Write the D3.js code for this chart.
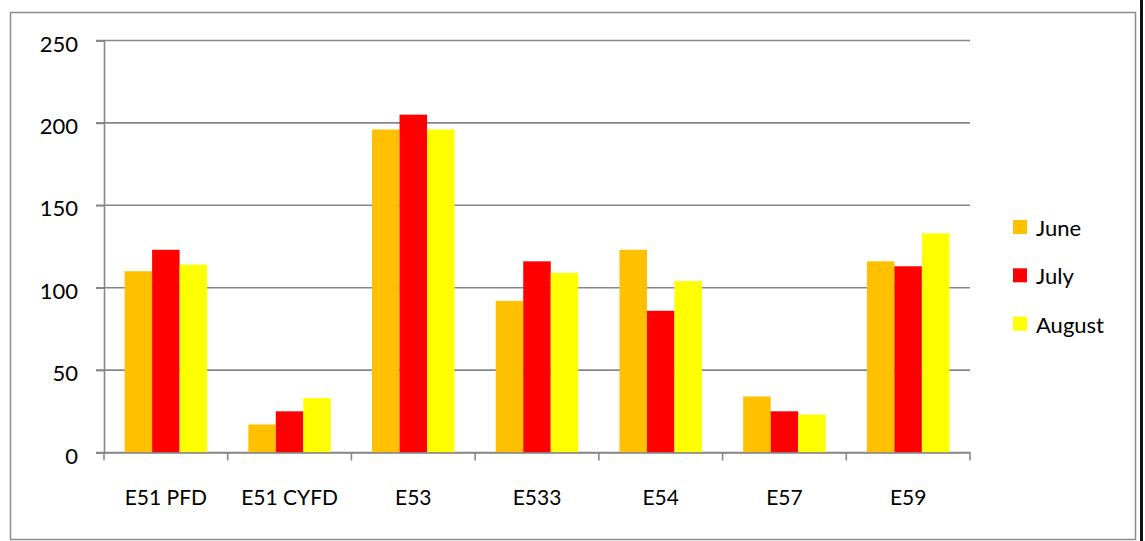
<!DOCTYPE html>
<html>
<head>
<meta charset="utf-8">
<script src="https://cdn.jsdelivr.net/npm/d3@7/dist/d3.min.js"></script>
<style>
  html, body { margin: 0; padding: 0; background: #fff; }
  svg { display: block; font-family: "Lato", "Open Sans", sans-serif; }
</style>
</head>
<body>
<svg id="chart" width="1145" height="541"></svg>
<script>
// Monthly counts per site
const categories = ["E51 PFD", "E51 CYFD", "E53", "E533", "E54", "E57", "E59"];
const seriesNames = ["June", "July", "August"];
const june   = [110, 17, 196, 92, 123, 34, 116];
const july   = [123, 25, 205, 116, 86, 25, 113];
const august = [114, 33, 196, 109, 104, 23, 133];
const yTicks = [0, 50, 100, 150, 200, 250];
const colors = ["#FFC000", "#FF0000", "#FFFF00"];

const values = [june, july, august];

const svg = d3.select("#chart");
const W = 1145, H = 541;
const plot = { left: 104, right: 970, top: 40.5, bottom: 452.5 };
const gridColor = "#878787";
const fontFamily = "Lato, 'Open Sans', sans-serif";

// Outer chart frame
svg.append("rect")
  .attr("x", 10.5).attr("y", 12.5)
  .attr("width", 1125).attr("height", 527)
  .attr("fill", "#fff")
  .attr("stroke", "#8c8c8c").attr("stroke-width", 1.5);

// Dark edge on the right side
svg.append("line")
  .attr("x1", 1141.5).attr("x2", 1141.5)
  .attr("y1", 0).attr("y2", H)
  .attr("stroke", "#111").attr("stroke-width", 3);

const x = d3.scaleBand()
  .domain(categories)
  .range([plot.left, plot.right])
  .paddingInner(0).paddingOuter(0);

const inner = d3.scaleBand()
  .domain(seriesNames)
  .range([0, x.bandwidth()])
  .paddingInner(0)
  .paddingOuter(0.75);

const y = d3.scaleLinear()
  .domain([0, 250])
  .range([plot.bottom, plot.top]);

// Horizontal gridlines
svg.append("g")
  .selectAll("line")
  .data(yTicks)
  .join("line")
  .attr("x1", plot.left - 8).attr("x2", plot.right)
  .attr("y1", d => y(d)).attr("y2", d => y(d))
  .attr("stroke", gridColor).attr("stroke-width", 1.6);

// Bars
const groups = svg.append("g")
  .selectAll("g")
  .data(categories)
  .join("g")
  .attr("transform", d => `translate(${x(d)},0)`);

groups.selectAll("rect")
  .data((c, i) => seriesNames.map((s, k) => ({ s, k, v: values[k][i] })))
  .join("rect")
  .attr("x", d => inner(d.s))
  .attr("width", inner.bandwidth())
  .attr("y", d => y(d.v))
  .attr("height", d => y(0) - y(d.v))
  .attr("fill", d => colors[d.k]);

// Y axis
const yAxis = svg.append("g")
  .attr("transform", `translate(${plot.left},0)`)
  .call(d3.axisLeft(y).tickValues(yTicks).tickSize(8).tickPadding(18));
yAxis.select(".domain").attr("stroke", gridColor).attr("stroke-width", 1.6);
yAxis.selectAll(".tick line").attr("stroke", gridColor).attr("stroke-width", 1.6);
yAxis.selectAll(".tick text")
  .attr("fill", "#000").attr("font-size", 22)
  .attr("dy", "0.48em")
  .attr("font-family", fontFamily);

// X axis
const xAxis = svg.append("g")
  .attr("transform", `translate(0,${plot.bottom})`)
  .call(d3.axisBottom(x).tickSize(0).tickPadding(38));
xAxis.select(".domain").attr("stroke", gridColor).attr("stroke-width", 1.6);
xAxis.selectAll(".tick text")
  .attr("fill", "#000").attr("font-size", 21)
  .attr("font-family", fontFamily);

// Category separators below the axis
svg.append("g")
  .selectAll("line")
  .data(categories.map(c => x(c)).concat([plot.right]))
  .join("line")
  .attr("x1", d => d).attr("x2", d => d)
  .attr("y1", plot.bottom).attr("y2", plot.bottom + 8)
  .attr("stroke", gridColor).attr("stroke-width", 1.6);

// Legend
const legend = svg.append("g").attr("transform", "translate(1013,220)");
const item = legend.selectAll("g")
  .data(seriesNames)
  .join("g")
  .attr("transform", (d, i) => `translate(0,${i * 48.3})`);
item.append("rect")
  .attr("width", 14).attr("height", 14)
  .attr("fill", (d, i) => colors[i]);
item.append("text")
  .attr("x", 23).attr("y", 8)
  .attr("dy", "0.36em")
  .attr("font-size", 22)
  .attr("fill", "#000")
  .attr("font-family", fontFamily)
  .text(d => d);
</script>
</body>
</html>
